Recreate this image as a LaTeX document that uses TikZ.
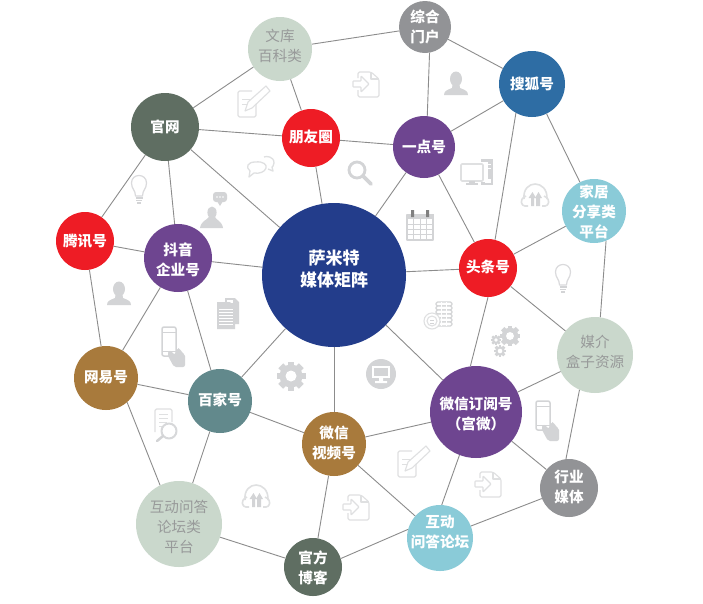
\documentclass[tikz,border=0pt]{standalone}
\usepackage{fontspec}
\setmainfont{Noto Sans CJK SC}
\usetikzlibrary{calc}
\definecolor{cnavy}{HTML}{233D8B}
\definecolor{cred}{HTML}{EE1C25}
\definecolor{cpurple}{HTML}{6E4590}
\definecolor{cblue}{HTML}{2E6DA4}
\definecolor{cteal}{HTML}{8ACBD8}
\definecolor{csage}{HTML}{CAD8CC}
\definecolor{cdark}{HTML}{5F6E62}
\definecolor{cbrown}{HTML}{A87A3C}
\definecolor{cslate}{HTML}{62898C}
\definecolor{cgrey}{HTML}{929396}
\definecolor{stxt}{HTML}{989A9A}
\definecolor{icg}{HTML}{D3D4D6}
\definecolor{icl}{HTML}{DFE0E1}
\tikzset{
  disc/.style={circle,inner sep=0pt},
  hubtext/.style={inner sep=0pt,align=center,text=white,font=\fontsize{14.6}{20}\selectfont\bfseries},
  softtext/.style={inner sep=0pt,align=center,text=stxt,font=\fontsize{14.6}{20}\selectfont},
  coretext/.style={inner sep=0pt,align=center,text=white,font=\fontsize{17}{22}\selectfont\bfseries},
  link/.style={draw=black!45,line width=0.9pt},
  lineic/.style={draw=icl,line width=1.1pt,fill=none,line join=round},
  solidic/.style={fill=icg,draw=none},
  fileicon/.pic={
    \draw[lineic,rounded corners=1.5pt] (-8,-6) -- (-8,-12) -- (5,-12) -- (13,-5) -- (13,13) -- (-8,13) -- (-8,6);
    \draw[lineic] (5,-12) -- (5,-5) -- (13,-5);
    \draw[lineic,rounded corners=.6pt] (-13,-3) -- (-5,-3) -- (-5,-8) -- (3,0) -- (-5,8) -- (-5,3) -- (-13,3) -- cycle;
  },
  pencilicon/.pic={
    \draw[lineic,rounded corners=1.5pt] (-2,-11) -- (-16,-11) -- (-16,15) -- (2,15) -- (2,2);
    \draw[lineic] (-9,9) -- (-6,0) -- (12,-16) -- (16,-11) -- (-2,6) -- cycle;
    \draw[lineic,line width=.6pt] (-12,-3) -- (-3,-3) (-12,2) -- (-7,2);
  },
  personicon/.pic={
    \fill[solidic] (0,-5) ellipse (6 and 7.5);
    \fill[solidic] (-3.5,1) -- (3.5,1) -- (4,4) .. controls (9,6) and (12,7) .. (12,11) -- (-12,11) .. controls (-12,7) and (-9,6) .. (-4,4) -- cycle;
  },
  bubbleicon/.pic={
    \draw[lineic,line width=1.3pt] (3,-11) .. controls (5,-12) and (13,-12) .. (13,-5) .. controls (13,-2) and (11,-1) .. (11,-1) -- (12,3) -- (7,1);
    \draw[lineic,line width=1.3pt,fill=white] (-6,-6) .. controls (3,-7) and (6,-3) .. (5,0) .. controls (4,4) and (-2,6) .. (-7,5) -- (-12,9) -- (-11,3) .. controls (-16,-1) and (-13,-6) .. (-6,-6) -- cycle;
  },
  magicon/.pic={
    \draw[icg,line width=2.8pt] (-3,-3) circle[radius=8];
    \draw[icg,line width=3.6pt,line cap=round] (3,3) -- (11,11);
  },
  pcicon/.pic={
    \fill[solidic] (5,-14) rectangle (17,12);
    \fill[white] (2,-11) rectangle (12,9);
    \draw[lineic,line width=1.6pt,fill=white,rounded corners=1pt] (-15,-9) rectangle (7,8);
    \fill[solidic] (-7,8) rectangle (-1,10);
    \fill[solidic] (-10,10) rectangle (2,12);
    \draw[white,line width=.7pt] (9,-9) -- (15,-9) (9,-5) -- (15,-5);
    \fill[white] (9,6) rectangle (15,10);
  },
  calicon/.pic={
    \draw[lineic,draw=icg,line width=1.2pt] (-13,-10) rectangle (13,15);
    \fill[solidic] (-13.5,-11) rectangle (13.5,-6);
    \fill[black!50] (-9,-15) rectangle (-6,-8) (6,-15) rectangle (9,-8);
    \foreach \u in {-6.5,0,6.5} \draw[icg,line width=1pt] (\u,-6) -- (\u,15);
    \foreach \v in {-1,4,9.5} \draw[icg,line width=1pt] (-13,\v) -- (13,\v);
  },
  phonesicon/.pic={
    \draw[lineic,line width=1.6pt] (-11,7) .. controls (-13,-13) and (13,-13) .. (12,7);
    \fill[white] (-7,3) rectangle (7,14);
    \draw[lineic,line width=1.6pt,rounded corners=3pt] (-7,14) -- (-13,14) -- (-14,7) -- (-9,4);
    \draw[lineic,line width=1.6pt,rounded corners=3pt] (7,14) -- (13,14) -- (14,7) -- (9,4);
    \fill[solidic] (-4,14) -- (-4,6) -- (-6.5,6) -- (-2.5,0) -- (1,6) -- (-1,6) -- (-1,14) -- cycle;
    \fill[solidic] (1,14) -- (1,6) -- (-0,6) -- (3.5,0) -- (7,6) -- (5,6) -- (5,14) -- cycle;
  },
  bulbicon/.pic={
    \draw[lineic,line width=1.2pt,draw=icg!85] (-3.5,7) .. controls (-3.5,1) and (-7.5,0) .. (-7.5,-6) .. controls (-7.5,-16) and (7.5,-16) .. (7.5,-6) .. controls (7.5,0) and (3.5,1) .. (3.5,7) -- cycle;
    \draw[icg,line width=1.4pt] (-3.5,9) -- (3.5,9) (-3,11.5) -- (3,11.5) (-2,14) -- (2,14);
  },
  adviceicon/.pic={
    \fill[solidic] (-1,2.5) ellipse (4.6 and 6);
    \fill[solidic] (-4,7) -- (2,7) .. controls (3,10) and (9,11) .. (10,18) -- (-13,18) .. controls (-12,11) and (-6,10) .. (-4,7) -- cycle;
    \fill[solidic,rounded corners=3pt] (0,-18) rectangle (14,-8);
    \fill[solidic] (4,-9) -- (10,-9) -- (7,-4) -- cycle;
    \foreach \u in {4,7,10} \fill[white] (\u,-13) circle[radius=.9];
  },
  docsicon/.pic={
    \fill[solidic] (-3,-16) -- (7,-16) -- (11,-12) -- (11,10) -- (5,10) -- (5,-6) -- (-3,-8) -- cycle;
    \fill[white] (-1,-14.5) -- (5,-14.5) -- (5,-11) -- (-1,-11) -- cycle;
    \fill[solidic] (-11,-12) -- (2,-12) -- (7,-7) -- (7,15) -- (-11,15) -- cycle;
    \foreach \v in {-5,-2,1,4,7,10} \draw[white,line width=.9pt] (-9,\v) -- (5,\v);
  },
  phoneicon/.pic={
    \draw[lineic,draw=icg,line width=1.5pt,rounded corners=2pt] (-11,-20) rectangle (3,9);
    \draw[icg,line width=.7pt] (-11,-15) -- (3,-15) (-11,4) -- (3,4);
    \fill[solidic,rounded corners=2pt] (-6,7) -- (-3,3) -- (2,8) -- (4,1) -- (7,1) -- (8,5) -- (12,7) -- (12,20) -- (1,20) -- cycle;
  },
  gearicon/.pic={
    \foreach \a in {0,45,...,315} \fill[icg,rotate=\a] (-3.4,-14.5) rectangle (3.4,-8);
    \fill[icg] (0,0) circle[radius=11.5];
    \fill[white] (0,0) circle[radius=5.5];
  },
  coinsicon/.pic={
    \foreach \v in {-13,-9,-5,-1,3,7} \draw[lineic,draw=icg,fill=white,rounded corners=1.5pt] (-1,\v) rectangle (15,\v+4);
    \foreach \u in {4,9} \draw[white,line width=.6pt] (\u,-13) -- (\u,11);
    \draw[lineic,fill=white] (-5,6) circle[radius=8];
    \draw[lineic] (-5,6) circle[radius=5];
    \draw[icg,line width=.8pt] (-7,5) -- (-3,5) (-7,8) -- (-3,8);
  },
  screenicon/.pic={
    \fill[solidic] (0,0) circle[radius=15];
    \fill[white] (-9,-8) rectangle (9,4);
    \fill[solidic] (-7,-6) rectangle (7,2);
    \fill[white] (-2,4) rectangle (2,7) (-6,7) rectangle (6,9);
  },
  docmagicon/.pic={
    \draw[lineic,rounded corners=1.5pt] (-11,7) -- (-11,-16) -- (6,-16) -- (6,-3);
    \draw[lineic,line width=.8pt] (-7,-11) -- (2,-11) (-7,-7) -- (2,-7) (-7,-3) -- (1,-3) (-7,1) -- (-3,1);
    \draw[lineic,draw=icg!90,line width=2pt,fill=white] (3,6) circle[radius=7.5];
    \draw[icg,line width=2.5pt,line cap=round] (-3,11) -- (-9,16);
  }
}
% name, fill, diameter, x, y, text offset, text style, text
\newcommand{\hubat}[8]{%
  \node[disc,fill=#2,minimum size=#3pt] (#1) at (#4,#5) {};
  \node[#7] (#1-t) at (#4,#5+#6) {#8};
}
\begin{document}
\begin{tikzpicture}[x=1pt,y=-1pt]
\path[use as bounding box,fill=white] (0,0) rectangle (703,603);
% icons
\pic at (366,84) {fileicon};
\pic at (254,102) {pencilicon};
\pic at (456,84) {personicon};
\pic at (261,168) {bubbleicon};
\pic at (360,173) {magicon};
\pic at (476,173) {pcicon};
\pic at (420,225) {calicon};
\pic at (535,192) {phonesicon};
\pic at (139,189) {bulbicon};
\pic at (563,278) {bulbicon};
\pic at (213,210) {adviceicon};
\pic at (119,294) {personicon};
\pic at (228,314) {docsicon};
\pic at (173,347) {phoneicon};
\pic at (291,376) {gearicon};
\pic at (437,315) {coinsicon};
\pic[scale=.72] at (510,336) {gearicon};
\pic[scale=.36] at (496,340) {gearicon};
\pic[scale=.42] at (500,351) {gearicon};
\pic at (381,374) {screenicon};
\pic at (547,421) {phoneicon};
\pic at (414,462) {pencilicon};
\pic at (488,484) {fileicon};
\pic at (166,425) {docmagicon};
\pic at (256,493) {phonesicon};
\pic at (356,507) {fileicon};
% nodes
\hubat{core}{cnavy}{144}{334}{275}{-6}{coretext}{萨米特\\媒体矩阵}
\hubat{menhu}{cgrey}{52}{425}{27}{0}{hubtext}{综合\\门户}
\hubat{wenku}{csage}{64}{280}{49}{-3}{softtext}{文库\\百科类}
\hubat{souhu}{cblue}{66}{532}{84}{0}{hubtext}{搜狐号}
\hubat{guanwang}{cdark}{68}{165}{127}{0}{hubtext}{官网}
\hubat{pengyou}{cred}{58}{311}{138}{-1}{hubtext}{朋友圈}
\hubat{yidian}{cpurple}{62}{424}{147}{0}{hubtext}{一点号}
\hubat{jiaju}{cteal}{64}{594}{211}{1}{hubtext}{家居\\分享类\\平台}
\hubat{tengxun}{cred}{58}{85}{241}{0}{hubtext}{腾讯号}
\hubat{douyin}{cpurple}{68}{178}{258}{2}{hubtext}{抖音\\企业号}
\hubat{toutiao}{cred}{58}{488}{268}{-1}{hubtext}{头条号}
\hubat{meijie}{csage}{76}{595}{355}{-3}{softtext}{媒介\\盒子资源}
\hubat{wangyi}{cbrown}{64}{106}{378}{-1}{hubtext}{网易号}
\hubat{baijia}{cslate}{64}{220}{401}{-1}{hubtext}{百家号}
\hubat{dingyue}{cpurple}{92}{476}{412}{2}{hubtext}{微信订阅号\\（宫微）}
\hubat{shipin}{cbrown}{64}{334}{444}{-1}{hubtext}{微信\\视频号}
\hubat{hangye}{cgrey}{58}{569}{488}{-1}{hubtext}{行业\\媒体}
\hubat{luntan}{cteal}{66}{440}{538}{-6}{hubtext}{互动\\问答论坛}
\hubat{wenda}{csage}{86}{179}{524}{3}{softtext}{互动问答\\论坛类\\平台}
\hubat{boke}{cdark}{58}{313}{567}{1}{hubtext}{官方\\博客}
% links
\foreach \p/\q in {menhu/wenku,menhu/souhu,wenku/guanwang,wenku/pengyou,souhu/yidian,souhu/jiaju,guanwang/pengyou,guanwang/tengxun,guanwang/douyin,guanwang/core,pengyou/yidian,pengyou/core,yidian/core,yidian/toutiao,jiaju/toutiao,tengxun/douyin,tengxun/wangyi,douyin/core,douyin/wangyi,douyin/baijia,toutiao/core,toutiao/meijie,meijie/dingyue,wangyi/baijia,baijia/core,baijia/shipin,baijia/wenda,dingyue/core,dingyue/shipin,dingyue/hangye,shipin/core,shipin/luntan,shipin/boke,hangye/luntan,wenda/boke}
  \draw[link] (\p) -- (\q);
\draw[link] (menhu.-80) -- (yidian.84);
\draw[link] (souhu.-119) -- (toutiao.76);
\draw[link] (jiaju.-68) -- (meijie.82);
\draw[link] (toutiao.-90) -- (dingyue.97);
\draw[link] (meijie.-114) -- (hangye.96);
\draw[link] (wangyi.-49) -- (wenda.116);
\draw[link] (dingyue.-111) -- (luntan.87);
\draw[link] (luntan.165) -- (boke.17);
\end{tikzpicture}
\end{document}
